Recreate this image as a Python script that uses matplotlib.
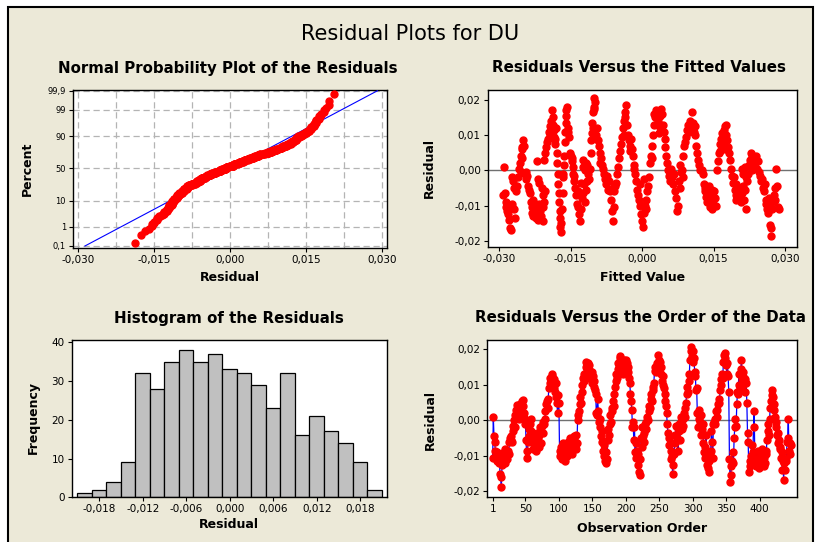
import numpy as np
import matplotlib.pyplot as plt
from matplotlib.patches import Rectangle
from statistics import NormalDist

# residuals in observation order, in units of 0.001
resid_milli = [
    -10.7, 0.8, -4.5, -6.0, -8.5, -10.5, -9.0, -11.5, -10.0, -12.0,
    -11.0, -15.0, -16.0, -18.8, -12.5, -10.0, -11.5, -9.0, -8.0, -12.0,
    -10.5, -9.5, -11.0, -8.5, -9.5, -6.0, -5.0, -5.5, -4.5, -6.0,
    -3.0, -1.5, 0.0, -2.0, 1.5, 3.0, 4.3, 2.0, 3.5, 0.5,
    2.5, 4.5, 3.0, 1.5, 5.5, 5.7, 4.0, 2.0, 0.5, -1.0,
    -5.5, -10.7, -8.5, -6.0, -2.5, -4.5, -1.0, 0.5, -3.0, -5.0,
    -6.5, -8.0, -4.5, -7.0, -5.5, -8.5, -6.0, -3.5, -5.0, -7.5,
    -4.0, -2.0, -6.5, -3.0, -1.5, -0.5, -3.5, -1.0, 0.5, 2.5,
    4.5, 5.5, 3.5, 6.0, 9.0, 10.5, 12.0, 11.0, 13.0, 12.5,
    10.0, 11.5, 9.0, 8.0, 10.5, 6.5, 5.0, 2.0, 7.0, 5.0,
    -8.5, -10.0, -7.5, -9.0, -11.0, -6.5, -8.0, -10.5, -11.5, -9.5,
    -7.0, -10.0, -8.5, -6.0, -9.0, -7.5, -5.0, -8.0, -6.5, -9.5,
    -7.0, -5.5, -4.5, -6.0, -8.0, -4.0, -6.5, 0.0, 1.5, 2.5,
    4.5, 6.5, 5.0, 8.0, 10.0, 12.0, 11.0, 13.0, 12.5, 15.0,
    16.5, 14.5, 13.0, 16.0, 15.5, 12.0, 14.0, 11.5, 13.5, 10.5,
    12.5, 9.5, 11.0, 8.5, 7.5, 2.0, 1.5, 6.0, 2.5, -0.5,
    -2.0, 0.5, -4.5, -6.0, -3.0, -8.5, -10.0, -7.0, -11.5, -12.0,
    -9.0, -11.0, -5.5, -2.5, -4.0, -1.0, 1.5, -0.5, 2.5, 3.5,
    5.5, 4.0, 7.5, 9.5, 11.0, 13.0, 12.0, 14.5, 16.0, 15.0,
    17.5, 18.0, 16.5, 14.0, 15.5, 13.0, 17.0, 16.0, 14.5, 15.5,
    17.0, 16.0, 13.5, 15.0, 12.0, 10.5, 7.5, 5.5, 3.0, -2.0,
    -0.5, -5.5, -2.0, -9.0, -6.5, -10.5, -8.5, -12.5, -9.5, -14.5,
    -15.5, -11.0, -5.0, -7.5, -2.0, -4.5, -6.0, -3.5, -1.0, -2.5,
    -0.5, 1.0, 0.0, 2.5, 4.0, 3.5, 6.0, 7.5, 5.5, 8.5,
    9.5, 10.5, 14.0, 15.0, 13.5, 16.0, 15.5, 18.5, 17.0, 14.0,
    16.5, 15.0, 13.0, 11.0, 12.5, 10.0, 9.0, 7.5, 5.5, 4.0,
    2.0, -1.0, -3.5, -5.0, -7.0, -4.5, -8.5, -11.0, -10.0, -15.0,
    -12.5, -9.5, -6.5, -4.0, -1.5, -5.0, -2.0, -8.5, -3.0, -1.0,
    -5.5, -0.5, 1.0, -2.5, 0.5, -1.5, 2.0, 1.0, 3.5, 5.0,
    7.5, 9.5, 8.0, 11.0, 13.0, 17.0, 19.5, 20.5, 18.0, 16.5,
    19.5, 17.5, 13.5, 12.5, 8.5, 9.0, 2.0, -2.0, 0.5, 3.0,
    -0.5, 1.5, -4.0, -2.5, -1.0, -6.5, -9.0, -7.5, -10.5, -4.0,
    -12.5, -10.0, -13.5, -11.5, -14.5, -9.5, -8.5, -3.0, -6.0, -10.5,
    -1.0, -0.5, 0.5, -1.0, 2.5, 1.0, 3.0, 4.5, 6.0, 5.0,
    8.5, 10.0, 11.5, 13.0, 12.0, 16.5, 18.5, 19.0, 17.5, 15.5,
    13.0, 16.0, 12.5, 8.0, -11.0, -17.5, -15.5, -13.0, -11.5, -9.0,
    -12.0, -5.0, -2.0, 0.5, -1.5, 4.5, 8.0, 7.5, 13.0, 10.0,
    9.0, 14.5, 17.0, 11.5, 13.5, 10.0, 12.0, 8.0, 11.5, 10.5,
    5.0, -3.5, -6.0, -14.5, -13.0, -11.5, -10.0, -7.0, -12.0, -9.0,
    -2.0, 2.5, -11.5, -13.0, -10.5, -12.5, -8.5, -11.0, -13.5, -9.5,
    -12.0, -10.0, -8.0, -11.5, -9.0, -13.0, -10.5, -12.0, -8.5, -9.5,
    -5.5, -3.0, -1.0, -4.0, 0.5, 3.5, 5.5, 7.0, 8.5, 6.5,
    3.0, 4.5, 1.0, -0.5, -2.0, -4.0, -6.5, -3.5, -5.5, -7.5,
    -8.0, -10.5, -9.0, -14.0, -11.5, -16.8, -12.0, -14.0, -10.5, -11.5,
    -6.0, -5.0, 0.5, -8.5, -6.5, -9.5, -7.0,
]

# fitted value / residual pairs, in units of 0.001
fit_milli = [
    -29.0, -28.8, -29.2, -28.6, -28.4, -28.2, -28.0, -27.8, -27.6, -28.5,
    -27.3, -27.0, -26.8, -27.2, -26.9, -26.6, -27.4,
    -26.4, -26.2, -26.0, -25.8, -25.6, -25.5, -25.3, -25.1, -25.0, -24.8, -25.2, -25.4,
    -24.6, -24.4, -24.2, -24.0, -23.8, -23.6, -24.3,
    -23.4, -23.2, -23.0, -22.8, -22.6, -22.4, -22.2, -22.0, -21.8, -21.6, -21.4, -21.2, -22.5, -21.9, -22.9,
    -22.0, -21.8, -21.6,
    -21.0, -20.8, -20.6, -20.9, -20.7, -20.4,
    -20.5, -20.3, -20.1, -19.9, -19.7, -19.5, -19.3, -19.1, -19.0, -19.4,
    -18.8, -18.6, -18.4, -18.3, -18.2, -18.0, -18.5, -17.9, -18.7,
    -17.8, -17.7, -17.6, -17.5, -17.4, -17.3, -17.2, -17.1, -17.0, -17.3,
    -16.8, -16.7, -16.6, -16.4, -16.3, -16.2, -16.1, -16.0, -15.9, -15.8, -15.9, -16.5,
    -15.6, -15.4, -15.2, -15.0, -14.8, -14.6, -14.4, -14.7, -15.5, -14.3,
    -14.2, -14.0, -13.8, -13.6, -13.4, -13.2, -13.0, -12.8, -12.6, -12.4, -12.2, -12.0, -11.8, -11.6, -13.5, -12.9,
    -12.5, -12.3, -12.0, -11.7, -11.4, -11.2, -11.0, -11.5,
    -10.8, -10.7, -10.6, -10.5, -10.4, -10.2, -10.0, -10.1, -9.9, -10.3,
    -9.7, -9.5, -9.3, -9.1, -8.9, -8.7, -8.5, -8.3, -9.6, -8.8,
    -8.0, -7.8, -7.6, -7.4, -7.2, -7.0, -6.8, -6.6, -6.4, -6.2, -6.0, -5.8, -5.6, -5.4, -6.1,
    -5.2, -5.0, -4.8, -4.6, -4.4, -4.2, -4.0, -3.8, -3.6, -3.4, -3.5, -3.9,
    -3.2, -3.0, -2.8, -2.6, -2.4, -2.2, -2.0, -1.8, -1.6, -2.5,
    -1.4, -1.2, -1.0, -0.8, -0.6, -0.4, -0.2, 0.0, 0.1, -0.5,
    0.4, 0.6, 0.8, 1.0, 1.2, 1.4, 0.9, 0.5,
    1.7, 1.8, 2.0, 2.1, 2.2, 2.4, 2.5, 2.7, 2.9, 3.1,
    3.3, 3.5, 3.7, 3.9, 4.1, 4.3, 4.5, 3.6,
    4.7, 4.9, 5.1, 5.3, 5.5, 5.7, 5.9, 6.1,
    6.3, 6.5, 6.7, 6.9, 7.1, 7.3, 7.5, 7.7, 7.9, 8.1,
    8.0, 8.4, 8.6,
    8.6, 8.8, 9.0, 9.2, 9.4, 9.6, 9.8, 10.0, 10.2, 10.4, 10.6, 10.8, 11.0, 11.2,
    11.4, 11.6, 11.8, 12.0, 12.2, 12.5, 12.8,
    12.9, 13.1, 13.3, 13.5, 13.7, 13.9, 14.1, 14.3, 14.5, 14.7, 14.9, 15.1, 15.3, 15.5, 14.0, 14.6,
    15.7, 15.9, 16.1, 16.3, 16.5, 16.7, 16.9, 17.1, 17.3, 17.5, 17.7, 16.4,
    17.0, 17.4, 17.8, 18.0,
    18.3, 18.5, 18.7, 18.9, 19.1, 19.3, 19.5, 19.7,
    19.6, 19.8, 20.0, 20.2, 20.4, 20.6, 20.8, 21.0, 21.2, 21.4, 21.6, 21.8, 22.0,
    20.9, 21.1, 21.5, 21.9,
    22.3, 22.5, 22.7, 22.9, 23.1, 23.3, 23.5, 23.7, 23.9, 24.1, 24.3, 24.5, 23.0,
    24.7, 24.9, 25.1, 25.3, 25.5, 25.7,
    25.9, 26.1, 26.3, 26.5, 26.7, 26.9, 27.0, 27.1, 26.6,
    27.3, 27.5, 27.7, 27.9, 28.1, 28.3, 28.5, 28.7, 27.8,
]
fit_resid_milli = [
    0.8, -6.5, -7.0, -10.5, -11.5, -12.5, -14.0, -16.5, -17.0, -9.0,
    -2.0, -3.0, -5.0, -9.5, -11.0, -13.5, -10.5,
    -6.0, -4.5, -2.0, 0.5, 2.0, 4.0, 6.5, 6.0, 8.5, 7.0, 3.5, -0.5,
    -1.0, -2.5, -1.5, -4.5, -5.5, -6.5, -0.5,
    -9.0, -10.5, -12.0, -8.5, -11.0, -12.5, -13.5, -10.0, -12.0, -9.5, -11.5, -13.0, -9.5, -14.0, -13.0,
    2.5, -2.5, -3.5,
    -5.0, -7.0, -9.0, -10.5, -14.5, -6.0,
    3.0, 5.0, 6.5, 8.0, 9.0, 11.0, 12.5, 14.0, 17.0, 10.0,
    15.0, 13.0, 11.5, 9.0, 7.5, 12.0, 9.5, 5.0, 12.5,
    2.0, -1.0, -4.0, -6.5, -9.0, -11.5, -13.5, -15.0, -17.5, -16.0,
    -11.0, -6.5, -2.0, 1.5, 4.0, 8.0, 11.0, 13.5, 15.5, 18.0, 17.0, -1.0,
    12.0, 9.5, 5.0, 4.0, 2.5, 1.0, -1.0, 3.5, 11.0, -1.5,
    -3.0, -5.0, -7.0, -9.5, -10.5, -12.5, -14.5, -11.0, -8.0, -6.5, -4.0, -9.0, -5.5, -3.0, -6.0, -3.5,
    1.0, 3.0, 0.0, 2.0, -1.0, -2.5, 0.5, 1.5,
    5.0, 8.5, 10.5, 13.5, 16.5, 18.0, 20.5, 17.5, 19.5, 12.0,
    10.0, 12.0, 8.5, 7.0, 5.0, 3.5, 1.5, 0.5, 9.0, 2.0,
    -1.0, -2.5, -4.0, -1.5, -5.5, -3.0, -6.0, -8.5, -11.5, -14.5, -10.5, -6.0, -4.5, -3.5, -5.0,
    -1.0, 1.0, 3.5, 5.5, 7.5, 9.5, 12.0, 14.0, 16.5, 18.5, 15.0, 10.0,
    13.0, 10.0, 8.5, 7.0, 9.0, 6.0, 4.0, 1.5, 0.5, 5.5,
    -1.0, -3.0, -5.5, -7.0, -8.5, -10.0, -12.5, -14.5, -16.0, -4.0,
    -12.0, -10.0, -8.5, -6.0, -4.5, -2.0, -11.0, -2.5,
    2.0, 4.0, 7.0, 3.5, 10.0, 13.0, 16.0, 15.0, 17.0, 16.0,
    14.0, 12.5, 15.5, 17.5, 16.0, 13.0, 11.0, 10.5,
    9.0, 6.5, 4.0, 2.0, 0.0, -1.5, -3.0, 0.5,
    -2.0, -4.0, -1.0, -6.0, -8.0, -11.5, -10.0, -3.0, -5.0, -0.5,
    1.5, 0.0, -2.0,
    4.0, 7.0, 8.0, 9.5, 11.5, 13.0, 11.0, 14.0, 12.0, 16.5, 13.5, 11.0, 12.5, 10.0,
    7.0, 5.0, 3.0, 1.5, 0.0, 0.0, -1.0,
    -4.0, -6.0, -5.0, -7.5, -9.0, -6.5, -8.5, -10.5, -7.0, -11.0, -9.5, -6.0, -8.0, -10.0, -4.5, -5.5,
    0.0, 2.5, 5.0, 7.5, 9.0, 10.5, 8.0, 11.5, 12.5, 10.0, 13.0, 5.5,
    7.0, 6.0, 8.5, 6.5,
    5.0, 3.0, 0.5, -1.5, -3.5, -2.0, -5.5, -7.0,
    -8.5, -4.0, -6.0, -8.0, -5.0, -7.0, -9.0, -6.5, -4.5, -8.5, -5.5, -11.0, -3.0,
    0.5, -1.0, 1.0, -2.0,
    -1.0, 1.5, 3.0, 5.0, 4.0, 2.0, 3.5, 1.0, 4.0, 0.5, 2.5, -0.5, 0.0,
    -1.5, -3.0, -2.5, -5.0, -6.0, -4.0,
    -8.5, -9.5, -11.0, -12.0, -10.0, -15.5, -16.5, -18.8, -8.0,
    -11.0, -9.0, -7.0, -5.0, 0.5, -4.5, -10.5, -11.0, -8.5,
]

# histogram of the residuals: bin midpoints and counts
hist_mid = [-0.020, -0.018, -0.016, -0.014, -0.012, -0.010, -0.008, -0.006, -0.004, -0.002,
            0.000, 0.002, 0.004, 0.006, 0.008, 0.010, 0.012, 0.014, 0.016, 0.018, 0.020]
hist_counts = [1, 2, 4, 9, 32, 28, 35, 38, 35, 37, 33, 32, 29, 23, 32, 16, 21, 17, 14, 9, 2]

pct_ticks = [0.1, 1, 10, 50, 90, 99, 99.9]
pct_labels = ['0,1', '1', '10', '50', '90', '99', '99,9']

resid = np.array(resid_milli) / 1000
fitted = np.array(fit_milli) / 1000
fitted_resid = np.array(fit_resid_milli) / 1000
order = np.arange(1, len(resid) + 1)

W, H = 815, 542
BG = '#ECE9D8'
RED = '#FF0000'
BLUE = '#0000FF'

plt.rcParams['font.family'] = ['DejaVu Sans']
fig = plt.figure(figsize=(W / 100, H / 100), dpi=100)
fig.patch.set_facecolor('white')
fig.patches.append(Rectangle((8 / W, -0.02), 805 / W, 1.02 - 7 / H, transform=fig.transFigure,
                             facecolor=BG, edgecolor='black', linewidth=1.5, zorder=-10))


def px_axes(left, top, right, bottom):
    return fig.add_axes([left / W, 1 - bottom / H, (right - left) / W, (bottom - top) / H])


def comma(v, nd):
    s = f'{v:.{nd}f}'.replace('.', ',')
    return '0,' + '0' * (nd - 2) + '0' if s in ('-0,' + '0' * nd,) else s


def style(ax):
    ax.set_facecolor('white')
    for sp in ax.spines.values():
        sp.set_linewidth(1.0)
        sp.set_color('black')
    ax.tick_params(direction='out', length=3, width=0.8, labelsize=7.5, pad=2)


def label(ax, xl, yl, xy_x, xy_y):
    ax.set_xlabel(xl, fontsize=9, fontweight='bold')
    ax.set_ylabel(yl, fontsize=9, fontweight='bold')
    ax.xaxis.set_label_coords(*xy_x)
    ax.yaxis.set_label_coords(*xy_y)
    ax.xaxis.label.set_va('center')
    ax.yaxis.label.set_va('center')


nd = NormalDist()

# normal probability plot
ax1 = px_axes(73, 90, 387, 248)
style(ax1)
srt = np.sort(resid)
n = len(srt)
pos = [(i - 0.3) / (n + 0.4) for i in range(1, n + 1)]
zs = np.array([nd.inv_cdf(p) for p in pos])
mu, sd = resid.mean(), resid.std(ddof=1)
zline = np.array([nd.inv_cdf(0.001), nd.inv_cdf(0.999)])
ax1.plot(mu + sd * zline, zline, color=BLUE, lw=0.8, zorder=3)
ax1.plot(srt, zs, 'o', color=RED, ms=5, mec=RED, zorder=4)
xt = [-0.030, -0.015, 0.0, 0.015, 0.030]
ax1.set_xticks(xt)
ax1.set_xticklabels([comma(v, 3) for v in xt])
ax1.set_xticks(np.arange(-0.030, 0.0301, 0.0075), minor=True)
yt = [nd.inv_cdf(p / 100) for p in pct_ticks]
ax1.set_yticks(yt)
ax1.set_yticklabels(pct_labels, fontsize=6)
ax1.tick_params(axis='x', which='minor', length=0)
ax1.grid(True, which='both', axis='x', color='#B4B4B4', ls=(0, (5, 3)), lw=0.9)
ax1.grid(True, which='major', axis='y', color='#B4B4B4', ls=(0, (5, 3)), lw=0.9)
ax1.set_axisbelow(True)
ax1.set_xlim(-0.031, 0.031)
ax1.set_ylim(-3.17, 3.12)
label(ax1, 'Residual', 'Percent', (0.5, -0.185), (-0.146, 0.5))

# residuals versus fits
ax2 = px_axes(487.7, 90, 797, 246.7)
style(ax2)
ax2.axhline(0, color='#707070', lw=1.0, zorder=2)
ax2.plot(fitted, fitted_resid, 'o', color=RED, ms=5, mec=RED, zorder=3)
ax2.set_xticks(xt)
ax2.set_xticklabels([comma(v, 3) for v in xt])
rt = [-0.02, -0.01, 0.0, 0.01, 0.02]
ax2.set_yticks(rt)
ax2.set_yticklabels([comma(v, 2) for v in rt])
ax2.set_xlim(-0.0324, 0.0325)
ax2.set_ylim(-0.0217, 0.0228)
label(ax2, 'Fitted Value', 'Residual', (0.5, -0.195), (-0.187, 0.5))

# histogram
ax3 = px_axes(71.7, 340, 387, 497.3)
style(ax3)
ax3.bar(hist_mid, hist_counts, width=0.002, color='#C0C0C0', edgecolor='black', linewidth=0.9)
ht = [-0.018, -0.012, -0.006, 0.0, 0.006, 0.012, 0.018]
ax3.set_xticks(ht)
ax3.set_xticklabels([comma(v, 3) for v in ht])
ax3.set_yticks([0, 10, 20, 30, 40])
ax3.set_xlim(-0.0218, 0.0217)
ax3.set_ylim(0, 40.6)
label(ax3, 'Residual', 'Frequency', (0.5, -0.17), (-0.123, 0.51))

# residuals versus order
ax4 = px_axes(487.3, 340, 797, 496.7)
style(ax4)
ax4.axhline(0, color='#707070', lw=1.0, zorder=2)
ax4.plot(order, resid, '-', color=BLUE, lw=0.9, zorder=3)
ax4.plot(order, resid, 'o', color=RED, ms=5, mec=RED, zorder=4)
ax4.set_xticks([1, 50, 100, 150, 200, 250, 300, 350, 400])
ax4.set_yticks(rt)
ax4.set_yticklabels([comma(v, 2) for v in rt])
ax4.set_xlim(-7, 456)
ax4.set_ylim(-0.0215, 0.0226)
label(ax4, 'Observation Order', 'Residual', (0.5, -0.2), (-0.185, 0.49))

# titles
fig.text(410 / W, 1 - 39.5 / H, 'Residual Plots for DU', ha='center', va='baseline', fontsize=15)
subs = [(228, 72.5, 'Normal Probability Plot of the Residuals'),
        (639, 72.5, 'Residuals Versus the Fitted Values'),
        (229, 322.5, 'Histogram of the Residuals'),
        (640, 322.5, 'Residuals Versus the Order of the Data')]
for x, y, t in subs:
    fig.text(x / W, 1 - y / H, t, ha='center', va='baseline', fontsize=10.8, fontweight='bold')

fig.savefig('out.png', dpi=100, facecolor=fig.get_facecolor())
